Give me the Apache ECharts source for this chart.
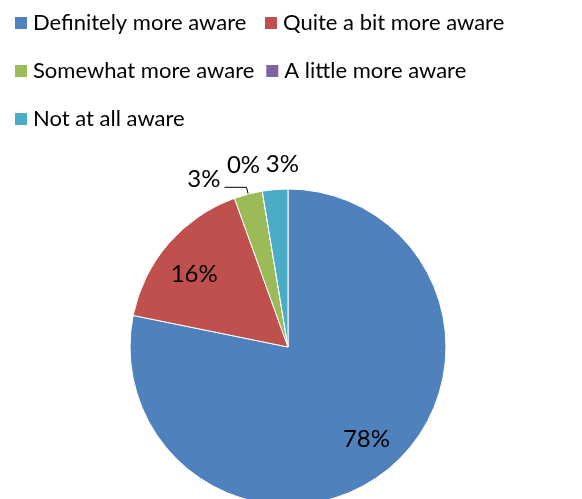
<!DOCTYPE html>
<html><head><meta charset="utf-8">
<script src="https://cdn.jsdelivr.net/npm/echarts@6/dist/echarts.min.js"></script>
<style>html,body{margin:0;padding:0;background:#fff}#c{width:582px;height:499px}</style>
</head><body><div id="c"></div>
<script>
const categories = ['Definitely more aware','Quite a bit more aware','Somewhat more aware','A little more aware','Not at all aware'];
const values = [78.2, 16.3, 2.9, 0, 2.6];
const colors = ['#4F81BD','#C0504D','#9BBB59','#8064A2','#4BACC6'];

const FONT = 'Lato';
const fmt = p => Math.round(p.percent) + '%';
const insideIdx = [0, 1];

const mainData = categories.map((name, i) => {
  const d = { name, value: values[i], itemStyle: { color: colors[i] } };
  if (insideIdx.includes(i)) {
    d.label = { show: false };
    d.labelLine = { show: false };
  } else if (i === 2) {
    d.label = { show: true };
    d.labelLine = { show: true, length: 7, length2: 22, lineStyle: { color: '#000', width: 1 } };
  } else {
    d.label = { show: true };
    d.labelLine = { show: false, length: 26, length2: 0 };
  }
  return d;
});
const ringData = categories.map((name, i) => ({
  name, value: values[i],
  itemStyle: { color: 'rgba(0,0,0,0)', borderWidth: 0 },
  label: { show: insideIdx.includes(i) }
}));

const outerShift = { 2: { dy: -8 }, 3: { dx: 6, dy: 0 }, 4: { dx: 30, dy: 1 } };
const innerShift = { 0: { dy: -4 }, 1: { dy: 8 } };

const chart = echarts.init(document.getElementById('c'), null, { renderer: 'canvas' });
chart.setOption({
  animation: false,
  color: colors,
  legend: {
    data: categories,
    left: 13, top: 4, width: 570, padding: 0,
    orient: 'horizontal',
    icon: 'rect', itemWidth: 14, itemHeight: 14, itemGap: 10,
    textStyle: { fontFamily: FONT, fontSize: 22, color: '#000', width: 220, lineHeight: 38, height: 38 }
  },
  series: [{
    type: 'pie',
    center: [288, 347], radius: 158,
    startAngle: 90, clockwise: true,
    avoidLabelOverlap: false,
    itemStyle: { borderColor: '#fff', borderWidth: 1 },
    label: { position: 'outside', formatter: fmt, fontFamily: FONT, fontSize: 24, color: '#000', distanceToLabelLine: 4 },
    labelLayout: p => outerShift[p.dataIndex] || {},
    emphasis: { disabled: true },
    data: mainData
  }, {
    type: 'pie', silent: true,
    center: [288, 347], radius: [100, 142],
    startAngle: 90, clockwise: true,
    avoidLabelOverlap: false,
    label: { position: 'inside', formatter: fmt, fontFamily: FONT, fontSize: 24, color: '#000' },
    labelLine: { show: false },
    labelLayout: p => innerShift[p.dataIndex] || {},
    emphasis: { disabled: true },
    data: ringData
  }]
});
</script></body></html>
